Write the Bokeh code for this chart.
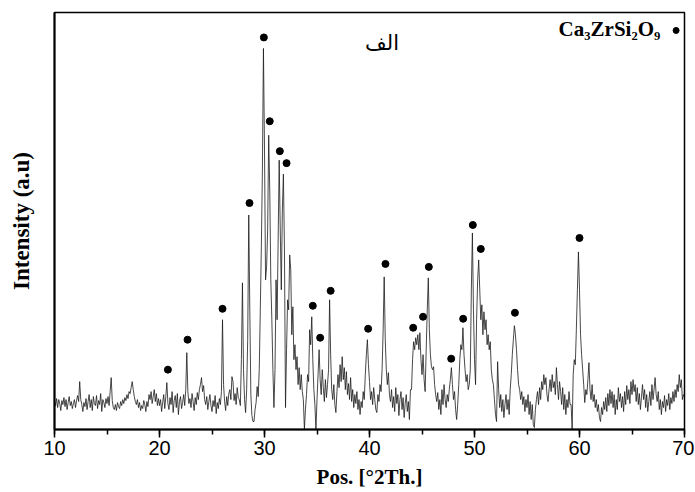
from bokeh.plotting import figure
from bokeh.models import Range1d, SingleIntervalTicker, FixedTicker
from bokeh.core.properties import value
from bokeh.embed import file_html
from bokeh.resources import INLINE

# 2-theta sampling grid (step 0.1 deg, 10..70)
scan_start = 10.0
scan_step = 0.1

# Intensities (arbitrary units), one list per 10 degrees
counts_10_20 = [28, 24, 31, 22, 30, 26, 19, 29, 25, 32,
                23, 30, 20, 27, 33, 24, 28, 21, 26, 30,
                22, 29, 34, 28, 48, 30, 25, 18, 27, 23,
                31, 20, 28, 35, 22, 30, 19, 33, 26, 24,
                34, 21, 29, 25, 36, 18, 30, 27, 22, 31,
                26, 33, 24, 38, 52, 29, 22, 20, 25, 19,
                27, 23, 21, 28, 24, 30, 26, 32, 29, 35,
                31, 38, 36, 42, 48, 40, 33, 28, 25, 30,
                22, 27, 19, 24, 21, 29, 25, 18, 28, 23,
                35, 30, 38, 26, 33, 40, 28, 36, 24, 31]
counts_20_30 = [24, 30, 18, 27, 35, 21, 33, 47, 26, 20,
                32, 25, 38, 17, 29, 34, 22, 36, 15, 28,
                33, 21, 27, 35, 24, 40, 77, 38, 26, 31,
                22, 36, 28, 19, 32, 25, 37, 30, 40, 45,
                52, 38, 44, 30, 25, 33, 20, 28, 35, 24,
                18, 29, 23, 34, 16, 27, 21, 31, 25, 38,
                110, 45, 28, 19, 33, 24, 36, 40, 30, 53,
                48, 29, 36, 25, 42, 32, 30, 24, 70, 147,
                60, 30, 17, 40, 90, 215, 120, 35, 14, 8,
                8, 20, 27, 43, 33, 60, 120, 183, 260, 382]
counts_30_40 = [280, 150, 163, 200, 295, 240, 150, 110, 60, 22,
                60, 150, 110, 190, 270, 200, 140, 220, 256, 180,
                22, 80, 130, 120, 175, 160, 95, 123, 70, 85,
                60, 73, 45, 62, 40, 55, 38, 30, 0, 20,
                35, 55, 48, 100, 85, 113, 70, 40, 25, 0,
                30, 55, 80, 50, 35, 60, 42, 28, 50, 32,
                45, 60, 130, 75, 40, 30, 45, 25, 17, 38,
                55, 42, 65, 48, 73, 50, 62, 40, 58, 35,
                46, 30, 52, 28, 40, 22, 35, 26, 38, 20,
                30, 15, 28, 22, 38, 30, 55, 75, 90, 65]
counts_40_50 = [48, 30, 38, 25, 42, 30, 20, 17, 35, 28,
                45, 38, 60, 100, 153, 90, 60, 45, 57, 35,
                28, 40, 22, 33, 18, 42, 26, 35, 14, 30,
                38, 20, 32, 12, 26, 35, 18, 28, 10, 40,
                40, 70, 88, 80, 92, 85, 95, 80, 97, 70,
                55, 75, 50, 38, 80, 120, 152, 100, 75, 63,
                60, 63, 45, 35, 28, 37, 20, 30, 15, 40,
                25, 45, 30, 22, 35, 28, 40, 50, 62, 45,
                30, 38, 20, 10, 25, 45, 70, 85, 80, 102,
                75, 60, 48, 55, 40, 45, 60, 140, 197, 120]
counts_50_60 = [70, 45, 110, 150, 170, 140, 110, 125, 95, 118,
                100, 110, 85, 95, 80, 88, 60, 50, 45, 30,
                15, 8, 68, 40, 22, 35, 18, 30, 12, 25,
                35, 20, 30, 15, 40, 55, 75, 90, 104, 95,
                80, 60, 45, 40, 30, 38, 25, 33, 18, 30,
                22, 35, 15, 28, 10, 25, 5, 2, 20, 30,
                38, 25, 42, 30, 48, 40, 55, 45, 52, 35,
                28, 40, 50, 38, 55, 42, 48, 35, 62, 45,
                30, 48, 38, 25, 42, 20, 35, 15, 30, 22,
                38, 25, 25, 0, 55, 70, 65, 100, 140, 178]
counts_60_70 = [140, 95, 75, 60, 45, 27, 40, 35, 50, 67,
                40, 30, 45, 28, 35, 22, 30, 18, 25, 12,
                8, 22, 15, 28, 20, 32, 18, 36, 24, 40,
                26, 38, 22, 35, 15, 30, 20, 42, 28, 36,
                22, 33, 18, 38, 25, 44, 30, 40, 26, 48,
                35, 50, 38, 45, 28, 42, 25, 36, 20, 32,
                45, 30, 40, 22, 35, 18, 28, 38, 24, 45,
                30, 40, 52, 35, 28, 38, 20, 30, 15, 28,
                22, 34, 18, 30, 24, 36, 20, 32, 26, 38,
                28, 40, 32, 45, 38, 55, 42, 50, 30, 35,
                32]

# Marked Ca3ZrSi2O9 reflections (position, marker height)
peak_pos = [20.8, 22.67, 26.0, 28.57, 29.94, 30.5, 31.46, 32.1, 34.6, 35.3, 36.3,
            39.87, 41.52, 44.16, 45.1, 45.65, 47.78, 48.92, 49.84, 50.6, 53.85, 60.0]
peak_mark = [60, 90, 121, 227, 393, 309, 279, 267, 124, 92, 139,
             101, 166, 102, 113, 163, 71, 111, 205, 181, 117, 192]

legend_label = "Ca\u2083ZrSi\u2082O\u2089"
panel_label = "الف"

counts = counts_10_20 + counts_20_30 + counts_30_40 + counts_40_50 + counts_50_60 + counts_60_70
two_theta = [round(scan_start + scan_step * i, 2) for i in range(len(counts))]

p = figure(width=694, height=491, output_backend="svg", toolbar_location=None,
           x_range=Range1d(10, 70), y_range=Range1d(0, 418),
           min_border_left=54, min_border_right=10, min_border_top=12, min_border_bottom=60)
p.background_fill_color = "white"
p.border_fill_color = "white"
p.outline_line_color = "black"
p.outline_line_width = 1.5
p.grid.visible = False

p.line(two_theta, counts, line_color="#1a1a1a", line_width=0.8)
p.scatter(peak_pos, peak_mark, size=7, color="black")

# legend entry
p.text([67.7], [401], text=[legend_label], text_font=value("Liberation Serif"),
       text_font_style="bold", text_font_size="21px", text_align="right",
       text_baseline="alphabetic", text_color="black")
p.scatter([69.2], [400], size=6, color="black")

# panel label
p.text([41.2], [387], text=[panel_label], text_font=value("DejaVu Sans"),
       text_font_size="21px", text_align="center", text_baseline="middle", text_color="black")

xa = p.xaxis[0]
xa.ticker = SingleIntervalTicker(interval=10, num_minor_ticks=2)
xa.axis_label = "Pos. [°2Th.]"
xa.axis_label_text_font = "Liberation Serif"
xa.axis_label_text_font_style = "bold"
xa.axis_label_text_font_size = "21px"
xa.axis_label_text_color = "black"
xa.axis_label_standoff = 7
xa.major_label_text_font = "Liberation Sans"
xa.major_label_text_font_size = "20px"
xa.major_label_text_color = "black"
xa.major_label_standoff = 3
xa.axis_line_width = 2
xa.axis_line_color = "black"
xa.major_tick_out = 8
xa.major_tick_in = 0
xa.minor_tick_out = 5
xa.minor_tick_in = 0
xa.major_tick_line_width = 1.5
xa.minor_tick_line_width = 1.5
xa.major_tick_line_color = "black"
xa.minor_tick_line_color = "black"

ya = p.yaxis[0]
ya.ticker = FixedTicker(ticks=[])
ya.axis_label = "Intensity (a.u)"
ya.axis_label_text_font = "Liberation Serif"
ya.axis_label_text_font_style = "bold"
ya.axis_label_text_font_size = "23px"
ya.axis_label_text_color = "black"
ya.axis_label_standoff = 21
ya.major_tick_out = 0
ya.minor_tick_out = 0
ya.major_tick_line_color = None
ya.minor_tick_line_color = None
ya.axis_line_width = 2
ya.axis_line_color = "black"

open("out.html", "w").write(file_html(p, INLINE))
